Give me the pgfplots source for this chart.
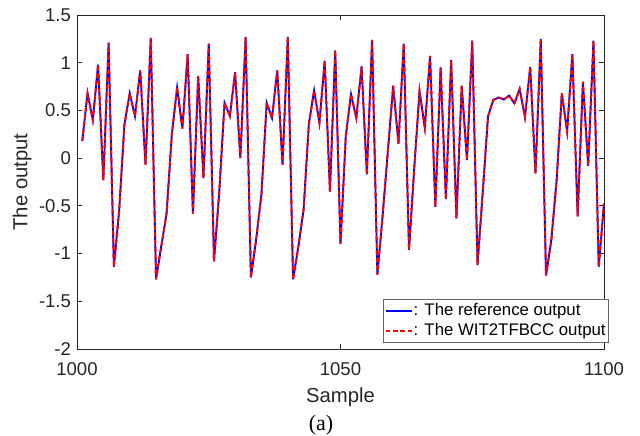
\documentclass[border=0pt]{standalone}
\usepackage{pgfplots}
\pgfplotsset{compat=1.18}
\usepackage{pgfplotstable}
\usetikzlibrary{calc}
\usepackage{fontspec}
\setmainfont{Liberation Sans}
\newfontfamily\timesfont{Liberation Serif}
\definecolor{axgray}{rgb}{0.15,0.15,0.15}
\pgfplotstableread{
x y
1001 0.18
1002 0.68
1003 0.40
1004 0.98
1005 -0.23
1006 1.21
1007 -1.14
1008 -0.55
1009 0.35
1010 0.68
1011 0.44
1012 0.92
1013 -0.07
1014 1.26
1015 -1.27
1016 -0.92
1017 -0.58
1018 0.25
1019 0.74
1020 0.31
1021 1.09
1022 -0.58
1023 0.86
1024 -0.21
1025 1.20
1026 -1.08
1027 -0.35
1028 0.58
1029 0.44
1030 0.90
1031 0.00
1032 1.27
1033 -1.25
1034 -0.85
1035 -0.38
1036 0.58
1037 0.42
1038 0.92
1039 -0.07
1040 1.27
1041 -1.27
1042 -0.93
1043 -0.54
1044 0.36
1045 0.71
1046 0.37
1047 1.02
1048 -0.35
1049 1.13
1050 -0.90
1051 0.23
1052 0.67
1053 0.42
1054 0.96
1055 -0.17
1056 1.24
1057 -1.22
1058 -0.60
1059 0.08
1060 0.76
1061 0.15
1062 1.20
1063 -0.96
1064 -0.10
1065 0.70
1066 0.32
1067 1.07
1068 -0.51
1069 0.95
1070 -0.43
1071 1.03
1072 -0.63
1073 0.76
1074 -0.02
1075 1.23
1076 -1.12
1077 -0.35
1078 0.44
1079 0.61
1080 0.635
1081 0.615
1082 0.655
1083 0.575
1084 0.725
1085 0.43
1086 0.955
1087 -0.16
1088 1.25
1089 -1.23
1090 -0.86
1091 -0.24
1092 0.68
1093 0.28
1094 1.09
1095 -0.61
1096 0.80
1097 -0.08
1098 1.23
1099 -1.14
1100 -0.475
}\datatab
\begin{document}
\begin{tikzpicture}
\begin{axis}[
  name=ax,
  scale only axis,
  width=395.25pt, height=250.5pt,
  xmin=1000, xmax=1100, ymin=-2, ymax=1.5,
  xtick={1000,1050,1100},
  ytick={-2,-1.5,-1,-0.5,0,0.5,1,1.5},
  tick align=inside,
  major tick length=4pt,
  axis line style={axgray, line width=0.6pt},
  tick style={axgray, line width=0.6pt},
  ticklabel style={font=\fontsize{13.9}{15}\selectfont, text=axgray},
  /pgf/number format/assume math mode=true,
  /pgf/number format/1000 sep={},
  xticklabel style={yshift=-6.5pt},
  yticklabel style={xshift=-1pt},
  xlabel={Sample},
  ylabel={The output},
  label style={font=\fontsize{15.2}{17}\selectfont, text=axgray},
  xlabel style={at={(axis description cs:0.5,-0.143)}, anchor=center},
  ylabel style={at={(axis description cs:-0.104,0.5)}, anchor=center},
  legend cell align=left,
  legend style={at={(axis description cs:1.0095,0.018)}, anchor=south east,
    font=\fontsize{12.6}{14}\selectfont, draw=axgray!70, line width=0.5pt,
    inner sep=1.5pt, row sep=0.5pt, nodes={inner xsep=0.8pt, inner ysep=2pt}},
  legend image code/.code={\draw[#1] (0cm,0cm) -- (0.68cm,0cm);},
  clip=true,
]
\addplot[blue, line width=1.4pt] table[x=x,y=y] {\datatab};
\addlegendentry{: The reference output}
\addplot[red, line width=1.4pt, dash pattern=on 3.5pt off 2pt] table[x=x,y=y] {\datatab};
\addlegendentry{: The WIT2TFBCC output}
\end{axis}
\node[font=\timesfont\fontsize{16.5}{18}\selectfont, text=black, inner sep=0pt] at ($(ax.south)+(-14.6pt,-57.5pt)$) {(a)};
\pgfresetboundingbox
\path ($(ax.south west)+(-57.75pt,-65.25pt)$) rectangle ($(ax.north east)+(27pt,11.25pt)$);
\end{tikzpicture}
\end{document}
